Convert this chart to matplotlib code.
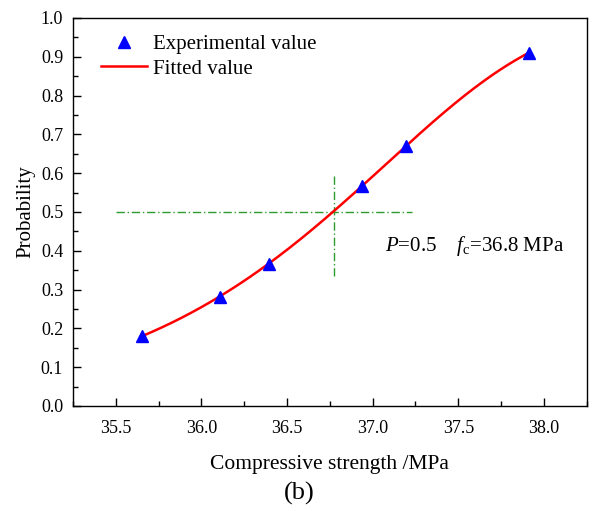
import numpy as np
import matplotlib
matplotlib.use("Agg")
import matplotlib.pyplot as plt
from matplotlib.ticker import MultipleLocator, FormatStrFormatter

# Experimental data
strength = [35.652, 36.108, 36.396, 36.938, 37.197, 37.912]
probability = [0.180, 0.282, 0.367, 0.568, 0.671, 0.910]

# Annotation / guide values
p_level = 0.5
fc_value = 36.8
guide_x = 36.775
x_ticks = [35.5, 36.0, 36.5, 37.0, 37.5, 38.0]
y_ticks = [0.0, 0.1, 0.2, 0.3, 0.4, 0.5, 0.6, 0.7, 0.8, 0.9, 1.0]

plt.rcParams['font.family'] = ['Liberation Serif', 'DejaVu Serif']
plt.rcParams['mathtext.fontset'] = 'custom'
plt.rcParams['mathtext.rm'] = 'Liberation Serif'
plt.rcParams['mathtext.it'] = 'Liberation Serif:italic'

# Weibull fit by linear regression of ln(-ln(1-P)) on ln(x)
xs = np.array(strength)
ps = np.array(probability)
k, b = np.polyfit(np.log(xs), np.log(-np.log(1 - ps)), 1)
xf = np.linspace(xs.min(), xs.max(), 200)
pf = 1 - np.exp(-np.exp(k * np.log(xf) + b))

fig = plt.figure(figsize=(6.03, 5.11), dpi=100)
ax = fig.add_axes([0.121, 0.2055, 0.852, 0.7595])

green = '#2e9b2e'
ax.plot([35.5, 37.23], [p_level, p_level], color=green, lw=1.0, ls='-.', dashes=(6, 2, 1, 2))
ax.plot([guide_x, guide_x], [0.336, 0.592], color=green, lw=1.0, ls='-.', dashes=(6, 2, 1, 2))

ax.plot(xs, ps, ls='none', marker='^', color='blue', markersize=8, label='Experimental value', zorder=3)
ax.plot(xf, pf, color='red', lw=1.8, label='Fitted value', zorder=2)

ax.set_xlim(35.25, 38.25)
ax.set_ylim(0.0, 1.0)
ax.set_xticks(x_ticks)
ax.set_yticks(y_ticks)
ax.xaxis.set_minor_locator(MultipleLocator(0.25))
ax.yaxis.set_minor_locator(MultipleLocator(0.05))
ax.xaxis.set_major_formatter(FormatStrFormatter('%.1f'))
ax.yaxis.set_major_formatter(FormatStrFormatter('%.1f'))
ax.tick_params(which='both', direction='in', top=False, right=False, labelsize=13)
ax.tick_params(which='major', length=6, width=1)
ax.tick_params(which='minor', length=3.5, width=1)
ax.tick_params(axis='x', which='major', pad=10)
ax.tick_params(axis='y', which='major', pad=7)
for s in ax.spines.values():
    s.set_linewidth(1.0)

ax.set_xlabel('Compressive strength /MPa', fontsize=15.5, labelpad=13)
ax.set_ylabel('Probability', fontsize=15, labelpad=4)

ax.text(37.07, 0.413, r'$\it{P}$=0.5    $\it{f}_{\rm c}$=36.8 MPa', fontsize=15, va='center', ha='left')

leg = ax.legend(loc='upper left', bbox_to_anchor=(0.03, 0.99), frameon=False, fontsize=15,
                handlelength=2.2, handletextpad=0.3, labelspacing=0.25, borderaxespad=0.2)

fig.text(0.497, 0.035, '(b)', fontsize=19, ha='center', va='center')

fig.savefig('out.png', dpi=100)
